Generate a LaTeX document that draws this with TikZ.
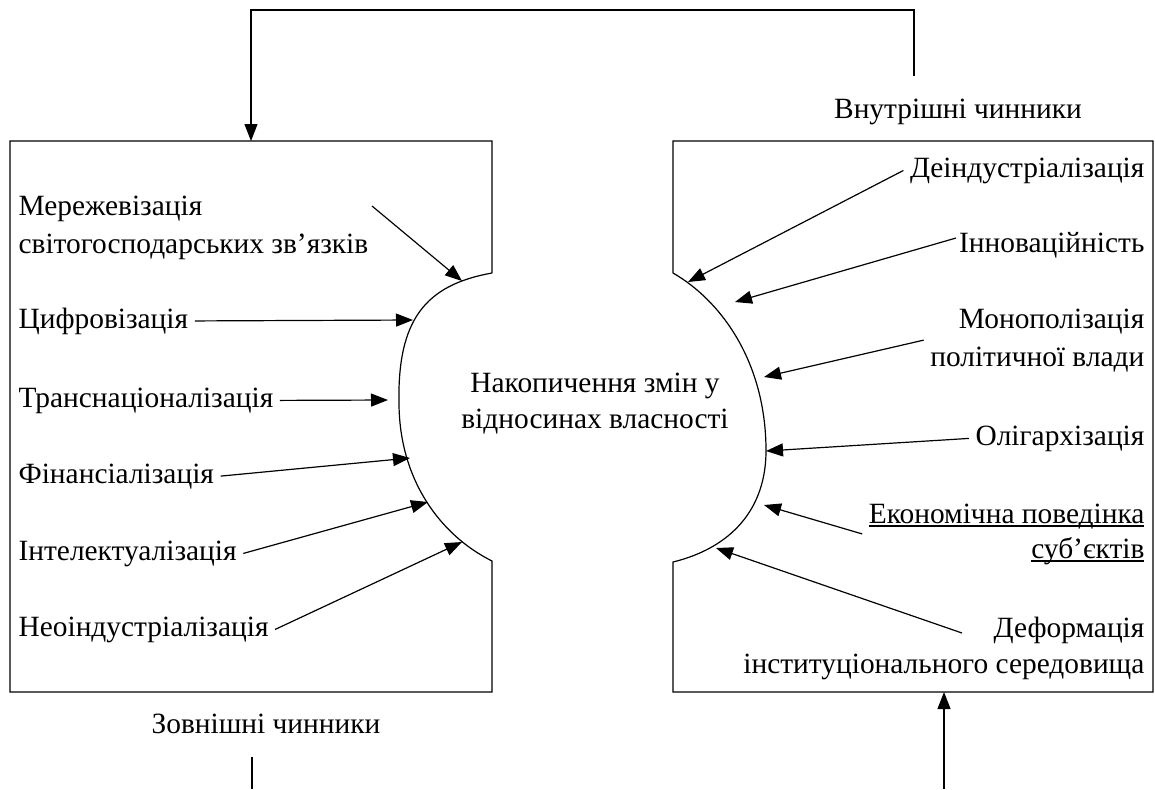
\documentclass[tikz,border=0pt]{standalone}
\usepackage{fontspec}
\setmainfont{Liberation Serif}
\usetikzlibrary{arrows.meta}
\newcommand\ulfix[1]{\setbox0\hbox{#1}\rlap{\vrule height -1.2pt depth 1.8pt width \wd0}\box0}
\begin{document}
\begin{tikzpicture}[x=0.5pt, y=-0.5pt, line width=0.6pt,
    lbl/.style = {inner sep=3pt, font=\fontsize{14.7}{19}\selectfont},
    lft/.style = {lbl, anchor=base west, align=left},
    rgt/.style = {lbl, anchor=base east, align=right},
    arr/.style = {-{Triangle[length=8.5pt, width=6.5pt]}}]
  \useasboundingbox (0,0) rectangle (1155,789);
  % left box with the hollow
  \draw (492,273) -- (492,141) -- (10,141) -- (10,692) -- (492,692) -- (492,561)
    .. controls (440,535) and (400,480) .. (399,405)
    .. controls (397,320) and (425,285) .. (492,273);
  % right box with the bulge
  \draw (673,273) -- (673,141) -- (1153,141) -- (1153,692) -- (673,692) -- (673,562)
    .. controls (730,548) and (767,510) .. (766,448)
    .. controls (765,360) and (720,300) .. (673,273);
  \node[lbl, align=center, font=\fontsize{14.7}{18}\selectfont] (core) at (595,428) [anchor=base] {Накопичення змін у\\відносинах власності};
  % external factors (last baseline given)
  \node[lft] (merezh) at (12,253) {Мережевізація\\світогосподарських зв’язків};
  \node[lft] (cifr) at (12,328) {Цифровізація};
  \node[lft] (trans) at (12,407) {Транснаціоналізація};
  \node[lft] (fin) at (12,483) {Фінансіалізація};
  \node[lft] (intel) at (12,560) {Інтелектуалізація};
  \node[lft] (neo) at (12,636) {Неоіндустріалізація};
  \node[lbl, anchor=base] (zovn) at (266,733) {Зовнішні чинники};
  % internal factors
  \node[rgt] (deind) at (1151,177) {Деіндустріалізація};
  \node[rgt] (innov) at (1151,252) {Інноваційність};
  \node[rgt] (monop) at (1151,366) {Монополізація\\політичної влади};
  \node[rgt] (olig) at (1151,445) {Олігархізація};
  \node[rgt, font=\fontsize{14.7}{17.5}\selectfont] (econ) at (1151,558) {\ulfix{Економічна поведінка}\\\ulfix{суб’єктів}};
  \node[rgt, font=\fontsize{14.7}{18}\selectfont] (deform) at (1151,673) {Деформація\\інституціонального середовища};
  \node[lbl, anchor=base] (vnutr) at (958,118) {Внутрішні чинники};
  % points on the hollow and bulge
  \coordinate (l1) at (462,281);
  \coordinate (l2) at (413,320);
  \coordinate (l3) at (388,400);
  \coordinate (l4) at (410,458);
  \coordinate (l5) at (428,502);
  \coordinate (l6) at (462,542);
  \coordinate (r1) at (688,282);
  \coordinate (r2) at (735,302);
  \coordinate (r3) at (764,377);
  \coordinate (r4) at (766,451);
  \coordinate (r5) at (764,505);
  \coordinate (r6) at (716,548);
  \coordinate (merezh-s) at (372,206);
  \coordinate (innov-s) at (956,238);
  \coordinate (deform-s) at (962,633);
  \draw[arr] (merezh-s) -- (l1);
  \draw[arr] (cifr.east) -- (l2);
  \draw[arr] (trans.east) -- (l3);
  \draw[arr] (fin.east) -- (l4);
  \draw[arr] (intel.east) -- (l5);
  \draw[arr] (neo.east) -- (l6);
  \draw[arr] (deind.west) -- (r1);
  \draw[arr] (innov-s) -- (r2);
  \draw[arr] (monop.west) -- (r3);
  \draw[arr] (olig.west) -- (r4);
  \draw[arr] (econ.west) -- (r5);
  \draw[arr] (deform-s) -- (r6);
  % feedback lines
  \coordinate (vline) at (914,76);
  \coordinate (lbox) at (251,141);
  \draw[arr] (vline) -- ++(0,-66) -| (lbox);
  \coordinate (zline) at (252,757);
  \coordinate (zend) at (252,789);
  \draw (zline) -- (zend);
  \coordinate (rin) at (944,789);
  \coordinate (rbox) at (944,692);
  \draw[arr] (rin) -- (rbox);
\end{tikzpicture}
\end{document}
